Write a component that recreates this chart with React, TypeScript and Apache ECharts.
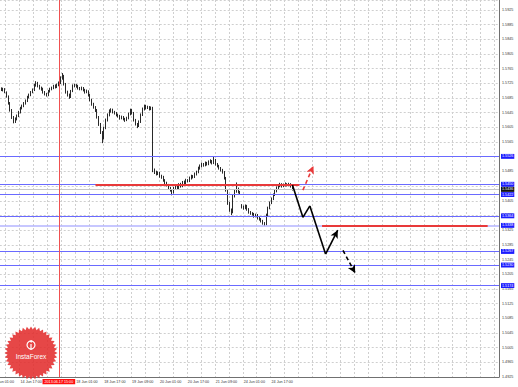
import React, { useEffect, useRef } from "react";
import * as echarts from "echarts";

// ---------- time axis (H1 bars, weekends skipped) ----------
const MONTHS = ["Jan", "Feb", "Mar", "Apr", "May", "Jun", "Jul", "Aug", "Sep", "Oct", "Nov", "Dec"];
const FIRST_HOUR = Date.UTC(2013, 5, 14, 1); // 14 Jun 2013 01:00
const CATEGORY_COUNT = 291;

function buildCategories(): string[] {
  const out: string[] = [];
  let t = FIRST_HOUR;
  while (out.length < CATEGORY_COUNT) {
    const d = new Date(t);
    const wd = d.getUTCDay();
    if (wd !== 0 && wd !== 6) {
      out.push(`${d.getUTCDate()} ${MONTHS[d.getUTCMonth()]} ${String(d.getUTCHours()).padStart(2, "0")}:00`);
    }
    t += 3600000;
  }
  return out;
}
const categories = buildCategories();

const tickLabels = [
  "14 Jun 01:00", "14 Jun 17:00", "18 Jun 01:00", "18 Jun 17:00", "19 Jun 09:00",
  "20 Jun 01:00", "20 Jun 17:00", "21 Jun 09:00", "24 Jun 01:00", "24 Jun 17:00",
];

// ---------- price data: [open, close, low, high] in pips above 1.5000 ----------
const FIRST_BAR = "14 Jun 05:00";
const ohlc: number[][] = [
  [715, 712, 708, 719], [712, 707, 704, 714], [707, 710, 703, 713], [710, 701, 698, 712],
  [701, 690, 686, 703], [690, 671, 667, 692], [671, 652, 648, 674], [652, 633, 628, 655],
  [633, 622, 616, 636], [622, 628, 617, 632], [628, 636, 624, 640], [636, 647, 633, 650],
  [647, 658, 643, 661], [658, 663, 654, 667], [663, 671, 660, 674], [671, 677, 667, 681],
  [677, 688, 674, 691], [688, 693, 684, 697], [693, 701, 690, 704], [701, 707, 698, 711],
  [707, 720, 704, 724], [720, 726, 716, 731], [726, 718, 714, 729], [718, 712, 708, 721],
  [712, 710, 705, 716], [710, 701, 697, 713], [701, 696, 692, 704], [696, 693, 689, 699],
  [693, 704, 690, 707], [704, 710, 700, 713], [710, 712, 706, 716], [712, 718, 709, 721],
  [718, 715, 711, 722], [715, 720, 712, 724], [720, 726, 717, 730], [726, 740, 723, 744],
  [740, 745, 735, 753], [745, 723, 719, 748], [723, 701, 697, 726], [701, 693, 689, 705],
  [693, 688, 683, 697], [688, 704, 685, 707], [704, 718, 701, 722], [718, 720, 714, 724],
  [720, 718, 713, 723], [718, 712, 708, 721], [712, 710, 706, 715], [710, 712, 706, 716],
  [712, 707, 703, 715], [707, 701, 697, 710], [701, 704, 698, 708], [704, 693, 689, 706],
  [693, 680, 676, 696], [680, 669, 664, 683], [669, 660, 656, 672], [660, 652, 647, 663],
  [652, 633, 629, 655], [633, 614, 609, 636], [614, 592, 587, 617], [592, 576, 562, 595],
  [576, 603, 572, 607], [603, 625, 600, 629], [625, 639, 621, 643], [639, 650, 635, 654],
  [650, 652, 645, 657], [652, 647, 643, 656], [647, 644, 640, 650], [644, 639, 635, 647],
  [639, 636, 632, 642], [636, 630, 626, 639], [630, 633, 627, 637], [633, 628, 624, 636],
  [628, 625, 620, 631], [625, 630, 622, 634], [630, 641, 627, 645], [641, 652, 638, 656],
  [652, 644, 640, 655], [644, 625, 621, 647], [625, 614, 610, 628], [614, 609, 603, 617],
  [609, 620, 606, 624], [620, 639, 617, 643], [639, 655, 636, 659], [655, 663, 651, 667],
  [663, 658, 654, 666], [658, 660, 655, 664], [660, 655, 651, 663], [655, 658, 652, 662],
  [658, 489, 483, 661], [489, 483, 478, 493], [483, 478, 474, 487], [478, 481, 475, 485],
  [481, 472, 468, 484], [472, 470, 465, 476], [470, 461, 457, 473], [461, 453, 449, 464],
  [453, 448, 444, 457], [448, 440, 436, 451], [440, 434, 430, 443], [434, 429, 420, 437],
  [429, 440, 425, 443], [440, 445, 436, 449], [445, 440, 436, 448], [440, 450, 437, 453],
  [450, 445, 441, 454], [445, 456, 442, 459], [456, 453, 449, 460], [453, 461, 450, 465],
  [461, 459, 455, 464], [459, 467, 456, 471], [467, 472, 463, 476], [472, 470, 466, 475],
  [470, 478, 467, 482], [478, 483, 474, 487], [483, 494, 480, 498], [494, 500, 490, 504],
  [500, 505, 496, 509], [505, 502, 498, 508], [502, 508, 499, 512], [508, 505, 501, 511],
  [505, 511, 502, 515], [511, 513, 507, 518], [513, 508, 504, 516], [508, 516, 505, 527],
  [516, 505, 501, 519], [505, 500, 496, 508], [500, 494, 490, 503], [494, 489, 485, 497],
  [489, 483, 479, 492], [483, 467, 463, 486], [467, 434, 430, 470], [434, 399, 394, 437],
  [399, 380, 375, 402], [380, 374, 366, 384], [374, 418, 371, 422], [418, 431, 414, 435],
  [431, 437, 427, 455], [437, 429, 425, 441], [429, 426, 422, 432], [392, 388, 384, 396],
  [388, 385, 381, 392], [385, 391, 382, 395], [391, 382, 378, 394], [382, 374, 370, 385],
  [374, 371, 367, 377], [371, 369, 365, 374], [369, 363, 359, 372], [363, 366, 360, 370],
  [366, 358, 354, 369], [358, 355, 351, 361], [355, 350, 346, 358], [350, 344, 340, 353],
  [344, 341, 336, 347], [341, 366, 338, 370], [366, 385, 363, 389], [385, 399, 382, 403],
  [399, 410, 396, 414], [410, 421, 407, 425], [421, 431, 418, 435], [431, 440, 428, 444],
  [440, 445, 436, 449], [445, 450, 442, 454], [450, 445, 441, 453], [445, 448, 442, 452],
  [448, 450, 444, 455], [450, 448, 444, 453], [448, 450, 445, 454], [450, 445, 441, 453],
  [445, 436, 433, 448],
];

// ---------- drawn levels and forecast ----------
const blueLevels = [1.5526, 1.545, 1.5422, 1.5364, 1.5267, 1.523, 1.5174];
const paleLevels = [1.5338];
const bidPrice = 1.5436;
const redSegments: { from: string; to: string; price: number }[] = [
  { from: "18 Jun 12:00", to: "25 Jun 09:00", price: 1.545 },
  { from: "25 Jun 22:00", to: "1 Jul 21:00", price: 1.5338 },
];
const solidPath: [string, number][] = [
  ["25 Jun 05:00", 1.5448], ["25 Jun 11:00", 1.536], ["25 Jun 15:00", 1.5391],
  ["26 Jun 00:00", 1.526], ["26 Jun 07:00", 1.5325],
];
const dashedBlackPath: [string, number][] = [["26 Jun 10:00", 1.527], ["26 Jun 17:00", 1.5208]];
const dashedRedPath: [string, number][] = [["25 Jun 11:00", 1.5434], ["25 Jun 17:00", 1.55]];
const markerTime = "17 Jun 15:00";
const markerLabel = "2013.06.17 15:00";

// y axis: value = pips above 1.4925
const BASE = 1.4925;
const toAxis = (p: number) => Math.round((p - BASE) * 10000);
const FONT = "Liberation Sans, Arial, sans-serif";
const FS = 3.7;

export default function App() {
  const ref = useRef<HTMLDivElement>(null);
  useEffect(() => {
    const chart = echarts.init(ref.current!, null, { renderer: "svg" });
    const first = categories.indexOf(FIRST_BAR);
    const seriesData = categories.map((_, k) => {
      const r = ohlc[k - first];
      return r ? r.map((v) => v + 75) : ["-", "-", "-", "-"];
    });

    const levelLabel = (price: number, bg: string) => ({
      show: true,
      position: "end",
      distance: 2,
      formatter: price.toFixed(4),
      backgroundColor: bg,
      color: "#ffffff",
      fontSize: FS,
      fontFamily: FONT,
      lineHeight: 4.4,
      padding: [0.3, 1, 0.2, 1],
    });

    const ml: any[] = [];
    blueLevels.forEach((p) =>
      ml.push({ yAxis: toAxis(p), lineStyle: { color: "#6a6aff", width: 1, type: "solid" }, label: levelLabel(p, "#1c1cff") })
    );
    paleLevels.forEach((p) =>
      ml.push({ yAxis: toAxis(p), lineStyle: { color: "#b4b4ff", width: 1.5, type: "solid" }, label: levelLabel(p, "#1c1cff") })
    );
    ml.push({ yAxis: toAxis(bidPrice), lineStyle: { color: "#c8c8c8", width: 1, type: "solid" }, label: levelLabel(bidPrice, "#111111") });
    redSegments.forEach((s) =>
      ml.push([
        { coord: [s.from, toAxis(s.price)], lineStyle: { color: "#e8393a", width: 2, type: "solid" }, label: { show: false } },
        { coord: [s.to, toAxis(s.price)] },
      ])
    );
    ml.push({
      xAxis: markerTime,
      lineStyle: { color: "#f05050", width: 1, type: "solid" },
      label: {
        show: true, position: "start", distance: 2, formatter: markerLabel,
        backgroundColor: "#ff1010", color: "#ffffff", fontSize: FS, fontFamily: FONT, lineHeight: 4.4, padding: [0.5, 2, 0.3, 2],
      },
    });
    const pushPath = (pts: [string, number][], color: string, type: any) => {
      for (let i = 0; i < pts.length - 1; i++) {
        const last = i === pts.length - 2;
        ml.push([
          { coord: [pts[i][0], toAxis(pts[i][1])], lineStyle: { color, width: 1.6, type }, label: { show: false } },
          last
            ? { coord: [pts[i + 1][0], toAxis(pts[i + 1][1])], symbol: "arrow", symbolSize: [6, 8] }
            : { coord: [pts[i + 1][0], toAxis(pts[i + 1][1])] },
        ]);
      }
    };
    pushPath(solidPath, "#000000", "solid");
    pushPath(dashedBlackPath, "#000000", [4, 3]);
    pushPath(dashedRedPath, "#e8393a", [4, 3]);

    // InstaForex badge
    const cx = 31, cy = 353;
    const gear: number[][] = [];
    for (let i = 0; i < 80; i++) {
      const a = (i / 80) * Math.PI * 2;
      const r = i % 2 === 0 ? 26.5 : 23.5;
      gear.push([cx + r * Math.cos(a), cy + r * Math.sin(a)]);
    }

    chart.setOption({
      animation: false,
      backgroundColor: "#ffffff",
      grid: { left: -8.26, right: 19, top: 0, bottom: 10, containLabel: false, outerBoundsMode: "none" },
      xAxis: {
        type: "category",
        data: categories,
        boundaryGap: true,
        axisLine: { show: true, lineStyle: { color: "#707070", width: 1 } },
        axisTick: { show: false },
        axisLabel: {
          interval: (_i: number, v: string) => tickLabels.includes(v),
          align: "left",
          margin: 3,
          fontSize: FS,
          fontFamily: FONT,
          color: "#333333",
          hideOverlap: false,
        },
        splitLine: {
          show: true,
          interval: (i: number) => i % 8 === 0,
          lineStyle: { color: "#cfcfcf", type: [2, 2], width: 1 },
        },
      },
      yAxis: {
        type: "value",
        position: "right",
        min: 0,
        max: 1027,
        interval: 40,
        axisLine: { show: true, lineStyle: { color: "#707070", width: 1 } },
        axisTick: { show: false },
        axisLabel: {
          margin: 3,
          fontSize: FS,
          fontFamily: FONT,
          color: "#333333",
          showMaxLabel: false,
          formatter: (v: number) => (v % 40 === 0 ? (BASE + v / 10000).toFixed(4) : ""),
        },
        splitLine: { show: true, lineStyle: { color: "#cfcfcf", type: [2, 2], width: 1 } },
      },
      series: [
        {
          type: "candlestick",
          data: seriesData,
          barWidth: 1,
          itemStyle: { color: "#ffffff", color0: "#000000", borderColor: "#111111", borderColor0: "#111111", borderWidth: 0.9 },
          markLine: { silent: true, symbol: ["none", "none"], animation: false, data: ml },
        },
      ],
      graphic: [
        { type: "polygon", z: 100, shape: { points: gear }, style: { fill: "rgba(226,45,45,0.88)" } },
        { type: "circle", z: 101, shape: { cx, cy: cy - 8, r: 4 }, style: { fill: "none", stroke: "#ffffff", lineWidth: 1.2 } },
        { type: "line", z: 101, shape: { x1: cx, y1: cy - 9, x2: cx, y2: cy - 3 }, style: { stroke: "#ffffff", lineWidth: 1.2 } },
        { type: "circle", z: 101, shape: { cx, cy: cy - 11.5, r: 1 }, style: { fill: "#ffffff" } },
        {
          type: "text", z: 101, x: cx, y: cy + 3,
          style: { text: "InstaForex", fill: "#ffffff", fontSize: 6.5, fontFamily: FONT, align: "center", verticalAlign: "middle" },
        },
      ],
    });
    return () => chart.dispose();
  }, []);
  return (
    <div
      ref={ref}
      style={{ position: "fixed", left: 0, top: 0, width: 518, height: 387, background: "#ffffff" }}
    />
  );
}
